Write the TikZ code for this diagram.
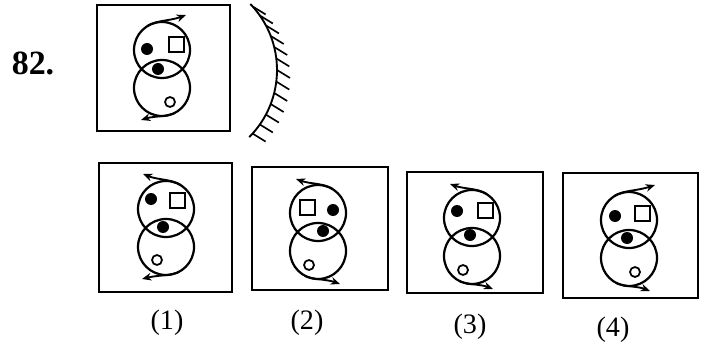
\documentclass[tikz,border=0pt]{standalone}
\usepackage{fontspec}
\setmainfont{Liberation Serif}
\usetikzlibrary{arrows.meta}

\begin{document}
\begin{tikzpicture}[x=0.03cm, y=-0.03cm,
    panel/.style={draw, line width=2pt},
    ring/.style={draw, line width=1.9pt},
    blob/.style={fill=black},
    hole/.style={draw, line width=1.5pt},
    tile/.style={draw, line width=1.5pt},
    turn/.style={-{Stealth[length=8pt, width=6.5pt]}, line width=1.6pt},
    caption/.style={font=\fontsize{24}{26}\selectfont}
]
\useasboundingbox (0,0) rectangle (709,343);

% question figure and mirror
\node[font=\fontsize{29}{31}\selectfont\bfseries] (qno) at (33,63) {82.};
\draw[panel] (97,5) rectangle (230,131);
\begin{scope}[shift={(162,50)}]
  \draw[ring] (0,0) circle[radius=28];
  \draw[ring] (0,38) circle[radius=28];
  \fill[blob] (-15,-1) circle[radius=6];
  \draw[tile] (7,-13) rectangle ++(15,15);
  \fill[blob] (-4,19) circle[radius=6];
  \draw[hole] (8,52) circle[radius=5];
  \draw[turn] (-15,-24) .. controls (-5,-30) and (8,-29) .. (24,-35);
  \draw[turn] (13,63) .. controls (4,67) and (-8,66) .. (-21,70);
\end{scope}

\begin{scope}[shift={(182,70)}]
  \draw[line width=1.6pt] (-44:95) arc[start angle=-44, end angle=45, radius=95];
  \foreach \a in {-42,-35,...,42}
    \draw[line width=1.4pt] (\a:95) -- ++(13,8);
\end{scope}

% option (1)
\draw[panel] (99,163) rectangle (232,292);
\begin{scope}[shift={(166,209)}]
  \draw[ring] (0,0) circle[radius=28];
  \draw[ring] (0,38) circle[radius=28];
  \fill[blob] (-15,-10) circle[radius=6];
  \draw[tile] (4,-16) rectangle ++(15,15);
  \fill[blob] (-3,18) circle[radius=6];
  \draw[hole] (-9,51) circle[radius=5];
  \draw[turn] (15,-24) .. controls (5,-30) and (-8,-29) .. (-23,-35);
  \draw[turn] (13,63) .. controls (4,67) and (-8,66) .. (-24,70);
\end{scope}

% option (2)
\draw[panel] (252,167) rectangle (388,290);
\begin{scope}[shift={(318,213)}]
  \draw[ring] (0,0) circle[radius=28];
  \draw[ring] (0,38) circle[radius=28];
  \draw[tile] (-18,-13) rectangle ++(15,15);
  \fill[blob] (15,-3) circle[radius=6];
  \fill[blob] (5,18) circle[radius=6];
  \draw[hole] (-9,52) circle[radius=5];
  \draw[turn] (15,-24) .. controls (5,-30) and (-8,-29) .. (-22,-34);
  \draw[turn] (-13,63) .. controls (-4,67) and (8,66) .. (22,71);
\end{scope}

% option (3)
\draw[panel] (407,172) rectangle (543,293);
\begin{scope}[shift={(472,218)}]
  \draw[ring] (0,0) circle[radius=28];
  \draw[ring] (0,38) circle[radius=28];
  \fill[blob] (-15,-7) circle[radius=6];
  \draw[tile] (6,-15) rectangle ++(15,15);
  \fill[blob] (-2,17) circle[radius=6];
  \draw[hole] (-9,52) circle[radius=5];
  \draw[turn] (15,-24) .. controls (5,-30) and (-8,-29) .. (-22,-34);
  \draw[turn] (-13,63) .. controls (-4,67) and (8,66) .. (21,71);
\end{scope}

% option (4)
\draw[panel] (563,173) rectangle (698,298);
\begin{scope}[shift={(629,220)}]
  \draw[ring] (0,0) circle[radius=28];
  \draw[ring] (0,38) circle[radius=28];
  \fill[blob] (-14,-4) circle[radius=6];
  \draw[tile] (6,-14) rectangle ++(15,15);
  \fill[blob] (-2,18) circle[radius=6];
  \draw[hole] (6,52) circle[radius=5];
  \draw[turn] (-15,-24) .. controls (-5,-30) and (8,-29) .. (26,-35);
  \draw[turn] (-13,63) .. controls (-4,67) and (8,66) .. (21,71);
\end{scope}

\node[caption] (opt1) at (167,323) {(1)};
\node[caption] (opt2) at (307,323) {(2)};
\node[caption] (opt3) at (470,327) {(3)};
\node[caption] (opt4) at (613,330) {(4)};

\end{tikzpicture}
\end{document}
